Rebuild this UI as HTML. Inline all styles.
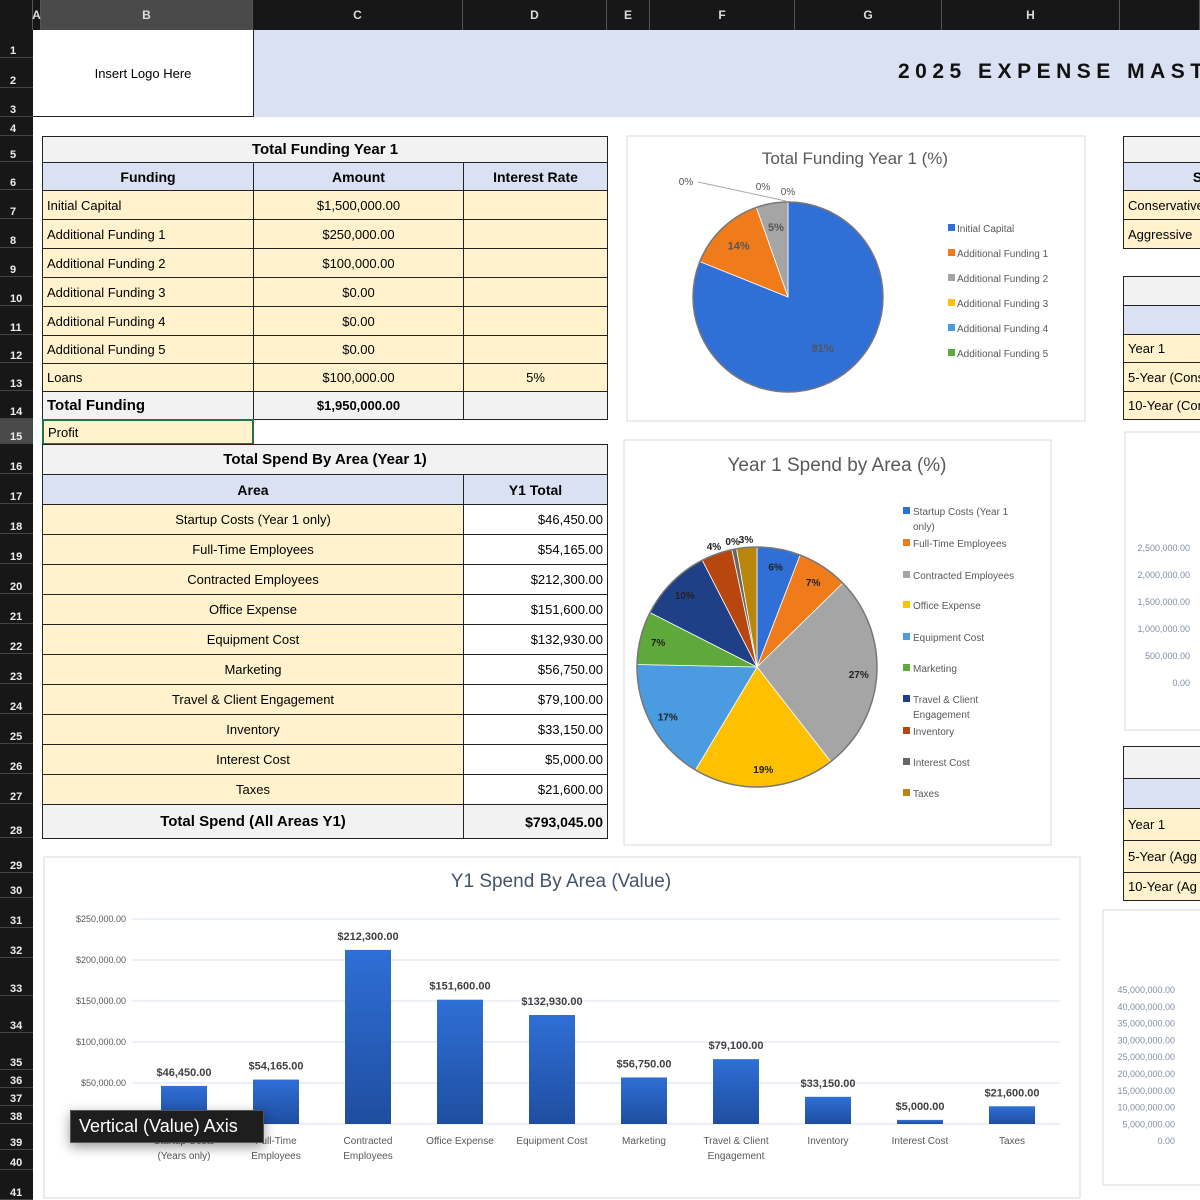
<!DOCTYPE html>
<html><head><meta charset="utf-8">
<style>
body{margin:0;width:1200px;height:1200px;overflow:hidden;background:#fff;font-family:"Liberation Sans",sans-serif;position:relative}
.a{position:absolute;box-sizing:border-box}
.cell{position:absolute;box-sizing:border-box;border:1px solid #222;font-size:13px;display:flex;align-items:center;white-space:nowrap;overflow:hidden}
.hd{background:#d9e1f2;font-weight:bold;justify-content:center;font-size:14px}
.tt{background:#f2f2f2;font-weight:bold;justify-content:center;font-size:15px}
.y{background:#fff2cc}
.c{justify-content:center}.r{justify-content:flex-end;padding-right:4px}.l{padding-left:4px}
.colh{position:absolute;top:0;height:30px;background:#171717;color:#ddd;font-size:12px;font-weight:bold;display:flex;align-items:center;justify-content:center;border-right:1px solid #555;box-sizing:border-box}
.rowh{position:absolute;left:0;width:33px;background:#171717;color:#eee;font-size:11px;font-weight:bold;display:flex;align-items:flex-end;padding-left:10px;box-sizing:border-box;border-bottom:1px solid #444}
</style></head><body>
<div id="colheads"></div>
<div id="rowheads"></div>
<div class="a" style="left:253px;top:30px;width:947px;height:87px;background:#d9e1f2"></div>
<div class="a" style="left:898px;top:60px;font-size:21px;font-weight:bold;letter-spacing:5.5px;color:#111;white-space:nowrap">2025 EXPENSE MASTER</div>
<div class="a" style="left:33px;top:30px;width:221px;height:87px;border:1px solid #222;border-top:none;border-left:none;background:#fff;display:flex;align-items:center;justify-content:center;font-size:13px">Insert Logo Here</div>

<div id="tables"></div>
<svg id="charts" class="a" style="left:0;top:0" width="1200" height="1200"></svg>
<div class="a" style="left:70px;top:1110px;width:194px;height:33px;background:#1e1e1e;border:1px solid #555;color:#fff;font-size:18px;display:flex;align-items:center;padding-left:8px;box-shadow:0 4px 12px rgba(0,0,0,.4)">Vertical (Value) Axis</div>

<script>
const fundLabels=["Initial Capital","Additional Funding 1","Additional Funding 2","Additional Funding 3","Additional Funding 4","Additional Funding 5"];
const fundValues=[1500000,250000,100000,0,0,0];
const fundColors=["#2f6fd6","#f07b1b","#a5a5a5","#ffc000","#4a9be0","#5fa83a"];
const areaLabels=["Startup Costs (Year 1 only)","Full-Time Employees","Contracted Employees","Office Expense","Equipment Cost","Marketing","Travel & Client Engagement","Inventory","Interest Cost","Taxes"];
const areaValues=[46450,54165,212300,151600,132930,56750,79100,33150,5000,21600];
const areaColors=["#2f6fd6","#f07b1b","#a5a5a5","#ffc000","#4a9be0","#5fa83a","#1f3f86","#b8460f","#666666","#b8860b"];
const barCats=[["Startup Costs","(Years only)"],["Full-Time","Employees"],["Contracted","Employees"],["Office Expense"],["Equipment Cost"],["Marketing"],["Travel & Client","Engagement"],["Inventory"],["Interest Cost"],["Taxes"]];
const barTicks=[0,50000,100000,150000,200000,250000];

const fmt=v=>"$"+v.toLocaleString("en-US",{minimumFractionDigits:2,maximumFractionDigits:2});
const NS="http://www.w3.org/2000/svg";
const svg=document.getElementById('charts');
function S(tag,attrs,parent){const e=document.createElementNS(NS,tag);for(const k in attrs)e.setAttribute(k,attrs[k]);(parent||svg).appendChild(e);return e;}
function T(x,y,txt,attrs,parent){const e=S('text',Object.assign({x:x,y:y,'font-family':'Liberation Sans, sans-serif'},attrs),parent);e.textContent=txt;return e;}

const cols=[["",0,33],["A",33,41],["B",41,253],["C",253,463],["D",463,607],["E",607,650],["F",650,795],["G",795,942],["H",942,1120],["",1120,1200]];
const ch=document.getElementById('colheads');
cols.forEach(c=>{const d=document.createElement('div');d.className='colh';d.style.left=c[1]+'px';d.style.width=(c[2]-c[1])+'px';d.textContent=c[0];if(c[0]==='B')d.style.background='#4a4a4a';


ch.appendChild(d);});
const rows=[30,58,88,117,136,162,190,219,248,277,306,335,363,391,419,444,474,504,534,564,594,624,654,684,714,744,774,804,838,873,898,928,958,996,1033,1070,1088,1106,1124,1150,1170,1200];
const rh=document.getElementById('rowheads');
for(let i=0;i<rows.length-1;i++){const d=document.createElement('div');d.className='rowh';d.style.top=rows[i]+'px';d.style.height=(rows[i+1]-rows[i])+'px';d.textContent=i+1;if(i===14)d.style.background='#4a4a4a';


rh.appendChild(d);}

const tb=document.getElementById('tables');
function cell(x1,y1,x2,y2,txt,cls){const d=document.createElement('div');d.className='cell '+cls;d.style.left=x1+'px';d.style.top=y1+'px';d.style.width=(x2-x1+1)+'px';d.style.height=(y2-y1+1)+'px';d.textContent=txt;


tb.appendChild(d);return d;}
cell(42,136,607,162,"Total Funding Year 1","tt");
cell(42,162,253,190,"Funding","hd");cell(253,162,463,190,"Amount","hd");cell(463,162,607,190,"Interest Rate","hd");
const fr=[["Initial Capital","$1,500,000.00",""],["Additional Funding 1","$250,000.00",""],["Additional Funding 2","$100,000.00",""],["Additional Funding 3","$0.00",""],["Additional Funding 4","$0.00",""],["Additional Funding 5","$0.00",""],["Loans","$100,000.00","5%"]];
fr.forEach((r,i)=>{const y1=rows[6+i],y2=rows[7+i];cell(42,y1,253,y2,r[0],"y l");cell(253,y1,463,y2,r[1],"y c");cell(463,y1,607,y2,r[2],"y c");});
cell(42,391,253,419,"Total Funding","tt l").style.justifyContent="flex-start";
cell(253,391,463,419,"$1,950,000.00","tt").style.fontSize="13px";cell(463,391,607,419,"","tt");
const pc=cell(42,419,253,444,"Profit","y l");pc.style.border="2px solid #217346";
cell(42,444,607,474,"Total Spend By Area (Year 1)","tt");
cell(42,474,463,504,"Area","hd");cell(463,474,607,504,"Y1 Total","hd");
areaLabels.forEach((l,i)=>{const y1=rows[17+i],y2=rows[18+i];cell(42,y1,463,y2,l,"y c");cell(463,y1,607,y2,fmt(areaValues[i]),"r").style.background="#fff";});
cell(42,804,463,838,"Total Spend (All Areas Y1)","tt");cell(463,804,607,838,"$793,045.00","tt r").style.fontSize="14px";
cell(1123,136,1210,162,"","tt");cell(1123,162,1210,190,"Sc","hd").style.justifyContent="flex-end";
cell(1123,190,1210,219,"Conservative","y l");cell(1123,219,1210,248,"Aggressive","y l");
cell(1123,276,1210,305,"","tt");cell(1123,305,1210,334,"F","hd").style.justifyContent="flex-end";
cell(1123,334,1210,362,"Year 1","y l");cell(1123,362,1210,391,"5-Year (Cons","y l");cell(1123,391,1210,419,"10-Year (Con","y l");
cell(1123,746,1210,778,"","tt");cell(1123,778,1210,808,"F","hd").style.justifyContent="flex-end";
cell(1123,808,1210,840,"Year 1","y l");cell(1123,840,1210,872,"5-Year (Agg","y l");cell(1123,872,1210,900,"10-Year (Ag","y l");

function frame(x,y,w,h,name){const r=S('rect',{x:x,y:y,width:w,height:h,fill:'#fff',stroke:'#d9d9d9'});

}
frame(627,136,458,285,'funding-pie-frame');frame(624,440,427,405,'spend-pie-frame');frame(44,857,1036,341,'bar-chart-frame');
frame(1125,432,90,298,'right-chart-frame-1');frame(1103,910,110,275,'right-chart-frame-2');

function pie(vals,colors,cx,cy,r,name){const tot=vals.reduce((a,b)=>a+b,0);let a0=-Math.PI/2;const out=[];
const g=S('g',{});


vals.forEach((v,i)=>{const a1=a0+v/tot*2*Math.PI;
if(v>0){const large=(a1-a0)>Math.PI?1:0;
const p=S('path',{d:`M${cx},${cy}L${cx+r*Math.cos(a0)},${cy+r*Math.sin(a0)}A${r},${r} 0 ${large} 1 ${cx+r*Math.cos(a1)},${cy+r*Math.sin(a1)}Z`,fill:colors[i],stroke:'#fff','stroke-width':0.8},g);

}
const pr=v/tot*100;
out.push({mid:(a0+a1)/2,pct:pr<1?0:Math.round(pr)});a0=a1;});
S('circle',{cx:cx,cy:cy,r:r,fill:'none',stroke:'#777','stroke-width':1.5},g);
return out;}
T(855,164,"Total Funding Year 1 (%)",{'font-size':17,fill:'#595959','text-anchor':'middle'});
const p1=pie(fundValues,fundColors,788,297,95,'funding-pie');
p1.forEach((s,i)=>{if(s.pct>0){const rr=i===0?0.65:0.75;T(788+95*rr*Math.cos(s.mid),297+95*rr*Math.sin(s.mid)+4,s.pct+"%",{'font-size':11,fill:'#555','text-anchor':'middle','font-weight':'bold'});}});
T(686,185,"0%",{'font-size':10,fill:'#555','text-anchor':'middle'});T(763,190,"0%",{'font-size':10,fill:'#555','text-anchor':'middle'});T(788,195,"0%",{'font-size':10,fill:'#555','text-anchor':'middle'});
S('line',{x1:698,y1:182,x2:786,y2:201,stroke:'#aaa'});
fundLabels.forEach((l,i)=>{const y=232+i*25;S('rect',{x:948,y:y-8,width:7,height:7,fill:fundColors[i]});
const t=T(957,y,l,{'font-size':10,fill:'#595959'});

});
T(837,471,"Year 1 Spend by Area (%)",{'font-size':19,fill:'#595959','text-anchor':'middle'});
const p2=pie(areaValues,areaColors,757,667,120,'spend-pie');
p2.forEach((s,i)=>{const rr=s.pct<5?1.07:0.85;T(757+120*rr*Math.cos(s.mid),667+120*rr*Math.sin(s.mid)+4,s.pct+"%",{'font-size':10,fill:'#222','text-anchor':'middle','font-weight':'bold'});});
const legY=[[515,"Startup Costs (Year 1","only)"],[547,"Full-Time Employees"],[579,"Contracted Employees"],[609,"Office Expense"],[641,"Equipment Cost"],[672,"Marketing"],[703,"Travel & Client","Engagement"],[735,"Inventory"],[766,"Interest Cost"],[797,"Taxes"]];
legY.forEach((e,i)=>{S('rect',{x:903,y:e[0]-8,width:7,height:7,fill:areaColors[i]});
const t=T(913,e[0],e[1],{'font-size':10,fill:'#595959'});


if(e[2])T(913,e[0]+15,e[2],{'font-size':10,fill:'#595959'});});

T(561,887,"Y1 Spend By Area (Value)",{'font-size':19,fill:'#44546a','text-anchor':'middle'});
const y0=1124,ppv=(1124-919)/250000;
const yS=v=>y0-v*ppv;const xS=i=>184+i*92;
S('defs',{}).innerHTML='<linearGradient id="bg" x1="0" y1="0" x2="0" y2="1"><stop offset="0" stop-color="#2f6fd6"/><stop offset="1" stop-color="#1f4ea0"/></linearGradient>';
barTicks.forEach(t=>{S('line',{x1:132,y1:yS(t),x2:1060,y2:yS(t),stroke:'#d9e1f2'});
const tl=T(126,yS(t)+3,fmt(t),{'font-size':9,fill:'#595959','text-anchor':'end'});

});
areaValues.forEach((v,i)=>{const b=S('rect',{x:xS(i)-23,y:yS(v),width:46,height:v*ppv,fill:'url(#bg)'});


T(xS(i),yS(v)-10,fmt(v),{'font-size':11,fill:'#404040','text-anchor':'middle','font-weight':'bold'});
barCats[i].forEach((ln,k)=>T(xS(i),1144+k*15,ln,{'font-size':10,fill:'#595959','text-anchor':'middle'}));});
const r1=["2,500,000.00","2,000,000.00","1,500,000.00","1,000,000.00","500,000.00","0.00"];
r1.forEach((t,i)=>T(1190,551+i*27,t,{'font-size':9,fill:'#7f8fa6','text-anchor':'end'}));
const r2=["45,000,000.00","40,000,000.00","35,000,000.00","30,000,000.00","25,000,000.00","20,000,000.00","15,000,000.00","10,000,000.00","5,000,000.00","0.00"];
r2.forEach((t,i)=>T(1175,993+i*16.8,t,{'font-size':9,fill:'#7f8fa6','text-anchor':'end'}));
</script>
</body></html>
